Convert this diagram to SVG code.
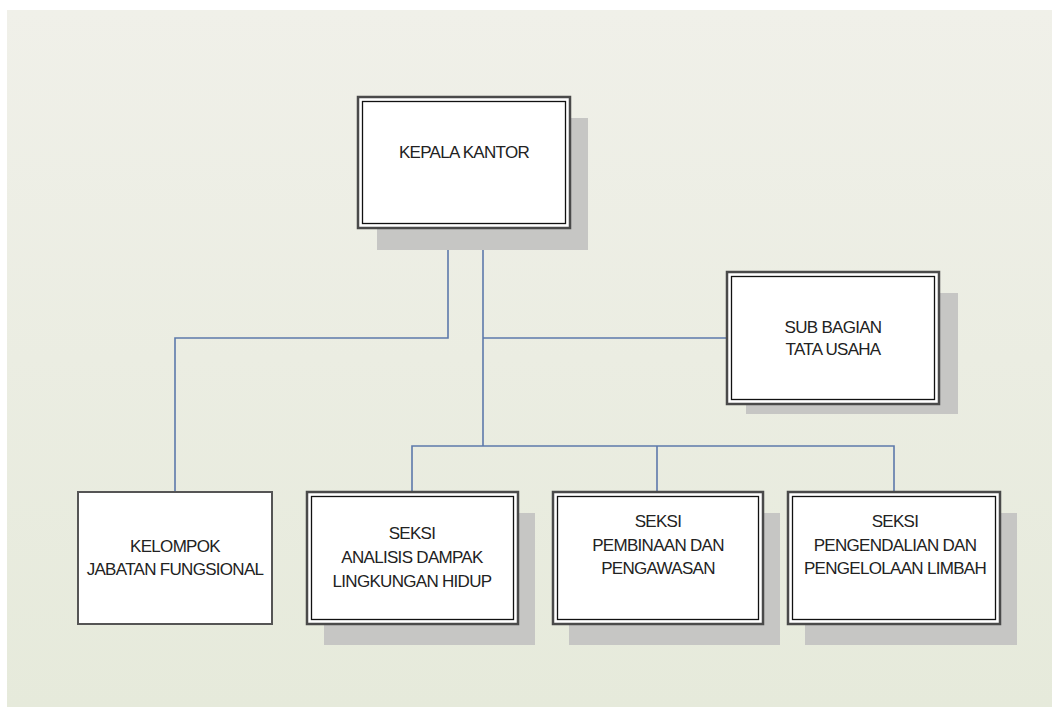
<svg xmlns="http://www.w3.org/2000/svg" width="1052" height="707" viewBox="0 0 1052 707">
<defs>
<linearGradient id="bg" x1="0" y1="0" x2="0" y2="1">
<stop offset="0" stop-color="#f0f0e9"/>
<stop offset="1" stop-color="#e6eadb"/>
</linearGradient>
<style>
.shadow{fill:#c6c6c4}
.outer{fill:#ffffff;stroke:#4a4a4a;stroke-width:2.5}
.inner{fill:none;stroke:#111111;stroke-width:1.3}
.single{fill:#ffffff;stroke:#555555;stroke-width:2}
.lbl{font-family:"Liberation Sans",Arial,sans-serif;font-size:17px;fill:#222222;text-anchor:middle;letter-spacing:-0.7px}
.conn{fill:none;stroke:#5d79ab;stroke-width:1.6}
</style>
</defs>
<rect x="0" y="0" width="1052" height="707" fill="#ffffff"/>
<rect x="7" y="10" width="1045" height="697" fill="url(#bg)"/>
<g id="connectors" class="conn">
<polyline points="448,228 448,338 175,338 175,492"/>
<polyline points="483,228 483,446"/>
<polyline points="483,338 727,338"/>
<polyline points="412,492 412,446 894,446 894,492"/>
<polyline points="657,446 657,492"/>
</g>
<g id="kepala-kantor">
<rect class="shadow" x="377" y="118" width="211" height="132"/>
<rect class="outer" x="358" y="97" width="212" height="131"/>
<rect class="inner" x="362.5" y="101.5" width="203" height="122"/>
<text class="lbl" x="464" y="158">KEPALA KANTOR</text>
</g>
<g id="sub-bagian-tata-usaha">
<rect class="shadow" x="746" y="293" width="212" height="121"/>
<rect class="outer" x="727" y="272" width="212" height="132"/>
<rect class="inner" x="731.5" y="276.5" width="203" height="123"/>
<text class="lbl" x="833" y="333">SUB BAGIAN</text>
<text class="lbl" x="833" y="355">TATA USAHA</text>
</g>
<g id="kelompok-jabatan-fungsional">
<rect class="single" x="78" y="492" width="194" height="132"/>
<text class="lbl" x="175" y="552">KELOMPOK</text>
<text class="lbl" x="175" y="575">JABATAN FUNGSIONAL</text>
</g>
<g id="seksi-analisis">
<rect class="shadow" x="324" y="513" width="211" height="132"/>
<rect class="outer" x="307" y="492" width="211" height="132"/>
<rect class="inner" x="311.5" y="496.5" width="202" height="123"/>
<text class="lbl" x="412" y="539">SEKSI</text>
<text class="lbl" x="412" y="563">ANALISIS DAMPAK</text>
<text class="lbl" x="412" y="587">LINGKUNGAN HIDUP</text>
</g>
<g id="seksi-pembinaan">
<rect class="shadow" x="569" y="513" width="211" height="132"/>
<rect class="outer" x="553" y="492" width="210" height="132"/>
<rect class="inner" x="557.5" y="496.5" width="201" height="123"/>
<text class="lbl" x="658" y="527">SEKSI</text>
<text class="lbl" x="658" y="551">PEMBINAAN DAN</text>
<text class="lbl" x="658" y="574">PENGAWASAN</text>
</g>
<g id="seksi-pengendalian">
<rect class="shadow" x="805" y="513" width="212" height="132"/>
<rect class="outer" x="788" y="492" width="212" height="132"/>
<rect class="inner" x="792.5" y="496.5" width="203" height="123"/>
<text class="lbl" x="895" y="527">SEKSI</text>
<text class="lbl" x="895" y="551">PENGENDALIAN DAN</text>
<text class="lbl" x="895" y="574">PENGELOLAAN LIMBAH</text>
</g>
</svg>
